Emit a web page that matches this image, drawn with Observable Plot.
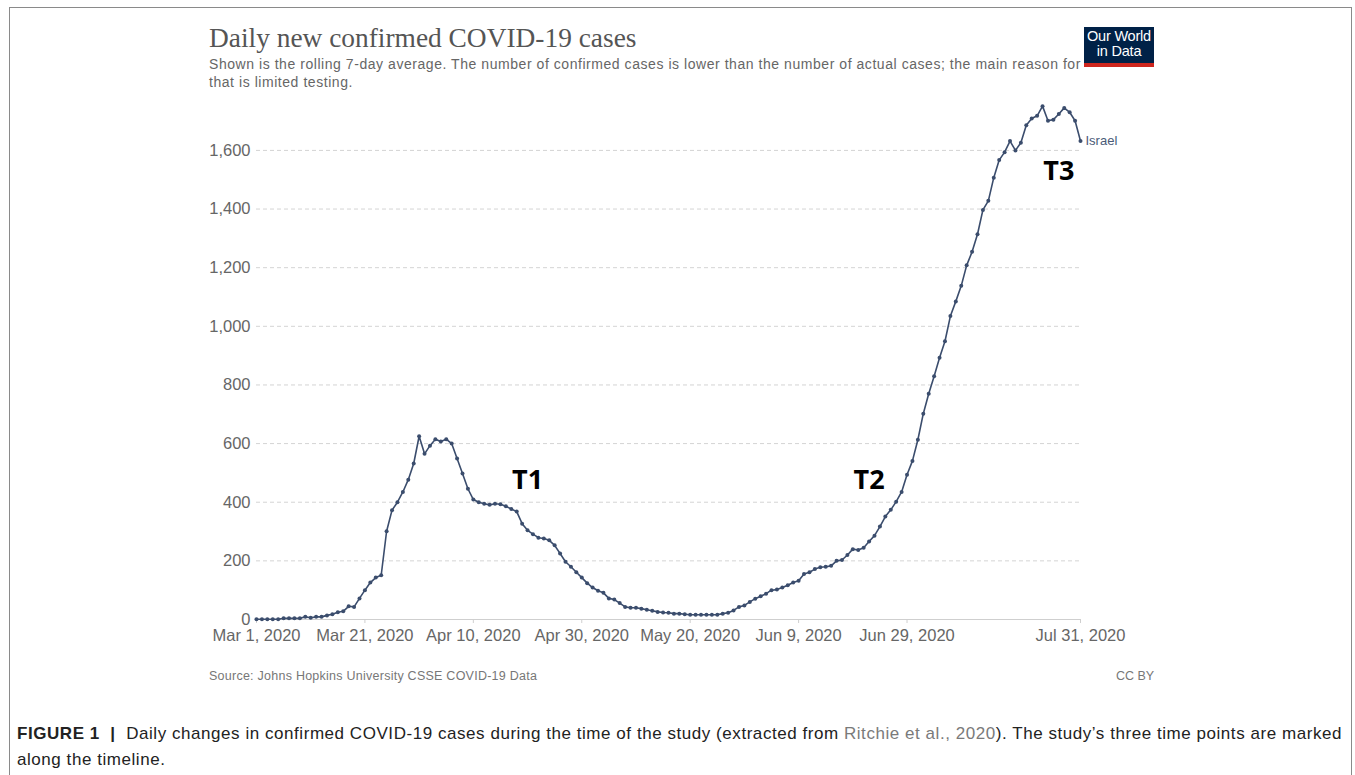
<!DOCTYPE html>
<html>
<head>
<meta charset="utf-8">
<script src="https://cdn.jsdelivr.net/npm/d3@7"></script>
<script src="https://cdn.jsdelivr.net/npm/@observablehq/plot@0.6"></script>
<style>
  html, body { margin: 0; padding: 0; background: #fff; }
  body { width: 1355px; height: 775px; position: relative; overflow: hidden; font-family: "Liberation Sans", Arial, sans-serif; }
  .frame { position: absolute; left: 9px; top: 7px; width: 1343px; height: 800px; border: 1px solid #8a8a8a; box-sizing: border-box; }
  .abs { position: absolute; z-index: 2; white-space: nowrap; }
  #title { left: 209px; top: 22px; font-family: "Liberation Serif", serif; font-size: 27.4px; color: #555; line-height: 32px; }
  #subtitle { left: 209px; top: 55px; font-size: 14px; letter-spacing: 0.55px; color: #666; line-height: 18px; }
  #logo { left: 1084px; top: 27px; width: 70px; height: 40px; background: #002147; border-bottom: 4px solid #ce261e; box-sizing: border-box; color: #fff; text-align: center; font-size: 14.5px; line-height: 15px; padding-top: 2px; letter-spacing: -0.2px; }
  #source { left: 209px; top: 669px; font-size: 12.5px; letter-spacing: 0.25px; color: #777; }
  #cc { left: 1116px; top: 669px; font-size: 12.5px; color: #777; }
  #caption { left: 17px; top: 721px; font-size: 17px; letter-spacing: 0.55px; color: #222; line-height: 26px; }
  #caption .ref { color: #7a7a7a; }
  #chart { position: absolute; left: 0; top: 0; z-index: 1; }
</style>
</head>
<body>
<div class="frame"></div>
<div class="abs" id="title">Daily new confirmed COVID-19 cases</div>
<div class="abs" id="subtitle">Shown is the rolling 7-day average. The number of confirmed cases is lower than the number of actual cases; the main reason for<br>that is limited testing.</div>
<div class="abs" id="logo">Our World<br>in Data</div>
<div id="chart"></div>
<div class="abs" id="source">Source: Johns Hopkins University CSSE COVID-19 Data</div>
<div class="abs" id="cc">CC BY</div>
<div class="abs" id="caption"><b>FIGURE 1 &nbsp;|</b>&nbsp; Daily changes in confirmed COVID-19 cases during the time of the study (extracted from <span class="ref">Ritchie et al., 2020</span>). The study’s three time points are marked<br>along the timeline.</div>
<script>
// Daily new confirmed cases (7-day rolling average), Israel, from Mar 1, 2020 to Jul 31, 2020
const startDate = "2020-03-01";
const dailyCases = [
  1, 1, 1, 1, 1, 4, 4, 4, 4, 9,
  6, 9, 9, 14, 18, 25, 28, 45, 43, 72,
  100, 126, 143, 151, 301, 373, 400, 435, 477, 532,
  625, 565, 593, 615, 607, 615, 600, 549, 498, 446,
  409, 400, 395, 391, 395, 393, 386, 377, 368, 327,
  304, 291, 279, 276, 270, 253, 225, 197, 180, 161,
  143, 124, 109, 98, 91, 72, 68, 56, 43, 40,
  40, 37, 33, 30, 26, 24, 23, 20, 20, 18,
  16, 16, 16, 16, 16, 16, 20, 23, 31, 43,
  48, 60, 71, 79, 88, 100, 102, 109, 117, 126,
  132, 155, 161, 172, 178, 180, 183, 200, 203, 220,
  240, 237, 245, 266, 286, 317, 351, 374, 402, 435,
  494, 541, 613, 702, 770, 830, 893, 949, 1035, 1085,
  1138, 1208, 1254, 1314, 1397, 1428, 1507, 1567, 1594, 1632,
  1600, 1626, 1686, 1709, 1718, 1751, 1701, 1705, 1724, 1745,
  1730, 1701, 1632
];
const seriesName = "Israel";
const xTickDates = ["2020-03-01", "2020-03-21", "2020-04-10", "2020-04-30", "2020-05-20", "2020-06-09", "2020-06-29", "2020-07-31"];
const yTicks = [0, 200, 400, 600, 800, 1000, 1200, 1400, 1600];
const markerLabels = ["T1", "T2", "T3"];
const markerDates = ["2020-04-20", "2020-06-22", "2020-07-27"];
const markerValues = [474, 474, 1528];

const start = new Date(startDate + "T00:00:00Z");
const data = dailyCases.map((v, i) => ({date: d3.utcDay.offset(start, i), value: v}));
const last = data[data.length - 1];
const markers = markerLabels.map((t, i) => ({label: t, date: new Date(markerDates[i] + "T00:00:00Z"), value: markerValues[i]}));
const ticks = xTickDates.map(s => new Date(s + "T00:00:00Z"));
const lineColor = "#3b4d6d";

const chart = Plot.plot({
  width: 1355,
  height: 660,
  marginLeft: 256,
  marginRight: 275,
  marginTop: 103,
  marginBottom: 41,
  style: {background: "transparent", overflow: "visible", fontFamily: "Liberation Sans, Arial, sans-serif"},
  x: {type: "utc", domain: [data[0].date, last.date]},
  y: {domain: [0, 1760]},
  marks: [
    Plot.gridY(yTicks.filter(d => d > 0), {stroke: "#d4d4d4", strokeOpacity: 1, strokeDasharray: "4,3"}),
    Plot.ruleY([0], {stroke: "#cfcfcf"}),
    Plot.axisY({ticks: yTicks, tickSize: 0, tickPadding: 6, tickFormat: d3.format(","), fill: "#666", fontSize: 16.5, label: null}),
    Plot.axisX({ticks: ticks, tickSize: 4, tickPadding: 6, tickFormat: d3.utcFormat("%b %-d, %Y"), stroke: "#cfcfcf", fill: "#666", fontSize: 16.5, label: null}),
    Plot.line(data, {x: "date", y: "value", stroke: lineColor, strokeWidth: 1.6}),
    Plot.dot(data, {x: "date", y: "value", r: 2, fill: lineColor, stroke: "none"}),
    Plot.text([last], {x: "date", y: "value", text: () => seriesName, textAnchor: "start", dx: 5, fill: "#4a5b78", fontSize: 13}),
    Plot.text(markers, {x: "date", y: "value", text: "label", fill: "#000", fontSize: 27, fontWeight: "bold", fontFamily: "Open Sans, Liberation Sans, sans-serif"})
  ]
});
document.getElementById("chart").appendChild(chart);
</script>
</body>
</html>
